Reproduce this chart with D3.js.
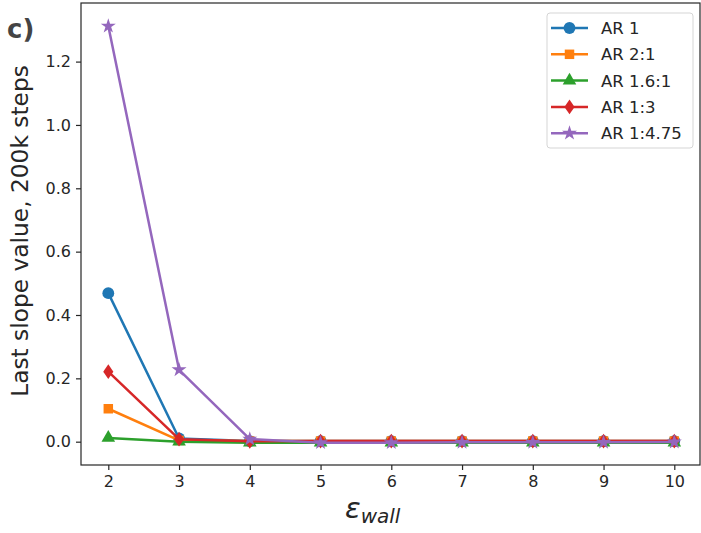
<!DOCTYPE html>
<html><head><meta charset="utf-8">
<script src="https://cdn.jsdelivr.net/npm/d3@7"></script>
<style>body{margin:0;background:#fff}svg{display:block}text{font-family:"DejaVu Sans",sans-serif}</style>
</head><body>
<svg id="c" width="701" height="533"></svg>
<script>
const xValues = [2, 3, 4, 5, 6, 7, 8, 9, 10];
const seriesNames = ["AR 1", "AR 2:1", "AR 1.6:1", "AR 1:3", "AR 1:4.75"];
const ar1    = [0.469, 0.010, 0.002, 0.002, 0.002, 0.002, 0.002, 0.002, 0.002];
const ar2_1  = [0.104, 0.004, 0.002, 0.002, 0.002, 0.002, 0.002, 0.002, 0.002];
const ar16_1 = [0.012, 0.000, -0.003, -0.003, -0.003, -0.003, -0.003, -0.003, -0.003];
const ar1_3  = [0.221, 0.008, 0.001, 0.002, 0.002, 0.002, 0.002, 0.002, 0.002];
const ar1_475= [1.312, 0.227, 0.008, -0.003, -0.003, -0.002, -0.002, -0.002, -0.001];
const yTicks = [0.0, 0.2, 0.4, 0.6, 0.8, 1.0, 1.2];
const xTicks = [2, 3, 4, 5, 6, 7, 8, 9, 10];
const colors = ["#1f77b4", "#ff7f0e", "#2ca02c", "#d62728", "#9467bd"];
const symbols = [d3.symbolCircle, d3.symbolSquare, d3.symbolTriangle, d3.symbolDiamond, d3.symbolStar];
const symSizes = [110, 90, 80, 62, 70];
const series = [ar1, ar2_1, ar16_1, ar1_3, ar1_475];

const svg = d3.select("#c");
const L = 81, R = 700, T = 3, B = 465;
const x = d3.scaleLinear().domain([1.6, 10.4]).range([80, 702.6]);
const y = d3.scaleLinear().domain([-0.0736, 1.385]).range([B, T]);

const tc = "#262626";
const xa = svg.append("g").attr("transform", `translate(0,${B})`)
  .call(d3.axisBottom(x).tickValues(xTicks).tickFormat(d3.format("d")).tickSize(5).tickPadding(6));
const ya = svg.append("g").attr("transform", `translate(${L},0)`)
  .call(d3.axisLeft(y).tickValues(yTicks).tickFormat(d3.format(".1f")).tickSize(5).tickPadding(5));
[xa, ya].forEach(a => {
  a.select(".domain").remove();
  a.selectAll("line").attr("stroke", tc).attr("stroke-width", 1.2);
  a.selectAll("text").attr("font-size", 16).attr("fill", tc).attr("font-family", "DejaVu Sans");
});

const sym = k => k === 3 ? " scale(1.2,1)" : "";
const line = d3.line().x((d, i) => x(xValues[i])).y(d => y(d));
series.forEach((s, k) => {
  svg.append("path").datum(s).attr("d", line).attr("fill", "none")
    .attr("stroke", colors[k]).attr("stroke-width", 2.5).attr("stroke-linejoin", "round");
  svg.append("g").selectAll("path").data(s).join("path")
    .attr("transform", (d, i) => `translate(${x(xValues[i])},${y(d)})${sym(k)}`)
    .attr("d", d3.symbol().type(symbols[k]).size(symSizes[k]))
    .attr("fill", colors[k]);
});

svg.append("rect").attr("x", L).attr("y", T).attr("width", R - L).attr("height", B - T)
  .attr("fill", "none").attr("stroke", tc).attr("stroke-width", 1.2);

const lg = svg.append("g");
lg.append("rect").attr("x", 547).attr("y", 13).attr("width", 146).attr("height", 135).attr("rx", 3)
  .attr("fill", "#fff").attr("fill-opacity", 0.8).attr("stroke", "#d5d5d5").attr("stroke-width", 1);
seriesNames.forEach((n, k) => {
  const yy = 28 + k * 26.3;
  lg.append("line").attr("x1", 551).attr("x2", 588).attr("y1", yy).attr("y2", yy)
    .attr("stroke", colors[k]).attr("stroke-width", 2.5);
  lg.append("path").attr("transform", `translate(569.5,${yy})${sym(k)}`)
    .attr("d", d3.symbol().type(symbols[k]).size(symSizes[k])).attr("fill", colors[k]);
  lg.append("text").attr("x", 601).attr("y", yy).attr("dy", "0.36em").attr("font-size", 16.5)
    .attr("fill", tc).text(n);
});

svg.append("text").attr("transform", `translate(28,231) rotate(-90)`)
  .attr("text-anchor", "middle").attr("font-size", 23.3).attr("fill", tc)
  .text("Last slope value, 200k steps");

const xl = svg.append("text").attr("x", 345).attr("y", 518).attr("fill", tc).attr("font-style", "italic");
xl.append("tspan").attr("font-size", 29).text("ε");
xl.append("tspan").attr("font-size", 20).attr("dy", 5).text("wall");

svg.append("text").attr("x", 7).attr("y", 38).attr("font-size", 26).attr("font-weight", "bold")
  .attr("fill", "#444").text("c)");
</script>
</body></html>
